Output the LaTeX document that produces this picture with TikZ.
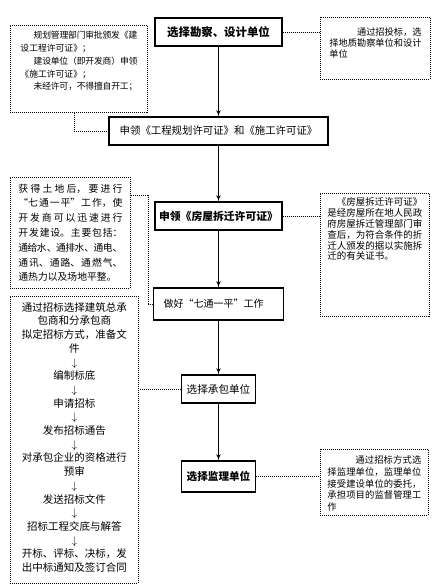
\documentclass[tikz,border=0pt]{standalone}
\usepackage{fontspec}
\setmainfont{Noto Sans CJK SC}
\XeTeXlinebreaklocale "zh"
\XeTeXlinebreakskip=0pt plus 2pt minus 1pt
\usetikzlibrary{arrows,positioning}
\tikzset{
  stepbox/.style={draw=black,line width=1.2pt,inner sep=0pt},
  notebox/.style={draw=black,line width=0.9pt,dash pattern=on 1pt off 1pt,
    anchor=north west,inner ysep=0pt,align=justify},
  dotline/.style={line width=0.9pt,dash pattern=on 1pt off 1pt},
  flow/.style={->,>=latex',line width=1.1pt}
}
\newcommand{\fs}[2]{\fontsize{#1}{#2}\selectfont}
\newcommand{\noskip}{\XeTeXlinebreakskip=0pt\relax}
\begin{document}
\begin{tikzpicture}[x=1pt,y=-1pt]
\useasboundingbox (0,0) rectangle (438,586);
% main steps
\node (kancha) [stepbox,minimum width=127pt,minimum height=28pt,font=\fs{11.4}{13}\bfseries] at (218.5,32) {选择勘察、设计单位};
\node (xuke) [stepbox,minimum width=219pt,minimum height=28pt,font=\fs{10.4}{12}] at (218.5,131) {申领《工程规划许可证》和《施工许可证》};
\node (chaiqian) [stepbox,minimum width=127pt,minimum height=28pt,font=\fs{10.8}{12}\bfseries] at (218.5,216) {申领《房屋拆迁许可证》};
\node (qitong) [stepbox,minimum width=130pt,minimum height=32pt,inner xsep=10pt,text width=110pt,align=left,font=\fs{10}{12}] at (218.5,304) {做好“七通一平”工作};
\node (chengbao) [stepbox,minimum width=74pt,minimum height=28pt,font=\fs{10.6}{12}] at (218.5,389) {选择承包单位};
\node (jianli) [stepbox,minimum width=74pt,minimum height=31pt,font=\fs{10.6}{12}\bfseries] at (218.5,476.5) {选择监理单位};
% notes
\node (shenpi) [notebox,inner xsep=10pt,text width=117pt,text height=13.5pt,text depth=73.5pt,font=\fs{8.8}{12.7}] at (10,25)
  {\hspace*{1.5em}规划管理部门审批颁发《建\linebreak 设工程许可证》；\\
   \hspace*{1.5em}建设单位（即开发商）申领\linebreak《施工许可证》；\\
   \hspace*{1.5em}未经许可，不得擅自开工；};
\node (zhaotou) [notebox,inner xsep=9pt,text width=92pt,text height=18.3pt,text depth=43.7pt,font=\fs{9.2}{11}] at (320,17)
  {\hspace*{3em}通过招投标，选\linebreak 择地质勘察单位和设计\linebreak 单位};
\node (tudi) [notebox,inner xsep=8pt,text width=104pt,text height=14.6pt,text depth=96.4pt,font=\fs{9.8}{14.8}] at (10,177)
  {获得土地后，要进行\linebreak “七通一平”工作，使\linebreak 开发商可以迅速进行\linebreak
   开发建设。主要包括：\linebreak 通给水、通排水、通电、\linebreak 通讯、通路、通燃气、\linebreak
   通热力以及场地平整。};
\node (chaiqianzheng) [notebox,inner xsep=7pt,text width=95pt,text height=12.5pt,text depth=110.5pt,font=\fs{9.5}{10.8}] at (320,193)
  {\hspace*{1em}《房屋拆迁许可证》\linebreak 是经房屋所在地人民政\linebreak 府房屋拆迁管理部门审\linebreak
   查后，为符合条件的折\linebreak 迁人颁发的据以实施拆\linebreak 迁的有关证书。};
\node (zhaobiao) [notebox,align=center,inner xsep=10pt,text width=108pt,text height=14.8pt,text depth=272.2pt,font=\fs{10.5}{13.7}\noskip] at (10,296)
  {通过招标选择建筑总承\\ 包商和分承包商\\ 拟定招标方式，准备文\\ 件\\ $\downarrow$\\ 编制标底\\ $\downarrow$\\
   申请招标\\ $\downarrow$\\ 发布招标通告\\ $\downarrow$\\ 对承包企业的资格进行\\ 预审\\ $\downarrow$\\
   发送招标文件\\ $\downarrow$\\ 招标工程交底与解答\\ $\downarrow$\\ 开标、评标、决标，发\\ 出中标通知及签订合同};
\node (jianlizhu) [notebox,inner xsep=7pt,text width=94pt,text height=14.4pt,text depth=51.6pt,font=\fs{9.3}{11.6}] at (320,449)
  {\hspace*{3em}通过招标方式选\linebreak 择监理单位，监理单位\linebreak 接受建设单位的委托，\linebreak
   承担项目的监督管理工\linebreak 作};
%
\path[flow] (kancha) edge (xuke);
\path[flow] (xuke) edge (chaiqian);
\path[flow] (chaiqian) edge (qitong);
\path[flow] (qitong) edge (chengbao);
\path[flow] (chengbao) edge (jianli);
%
\draw[dotline] (kancha.east) -- (kancha.east -| zhaotou.west);
\draw[dotline] ([xshift=-4.5pt]shenpi.south) |- (xuke.west);
\draw[dotline] (chaiqian.east) -- (chaiqian.east -| chaiqianzheng.west);
\draw[dotline] ([yshift=-18pt]tudi.north east) -- ++(18,0) |- (qitong.west);
\draw[dotline] (chengbao.west) -- (chengbao.west -| zhaobiao.east);
\draw[dotline] (jianli.east) -- (jianli.east -| jianlizhu.west);
\end{tikzpicture}
\end{document}
